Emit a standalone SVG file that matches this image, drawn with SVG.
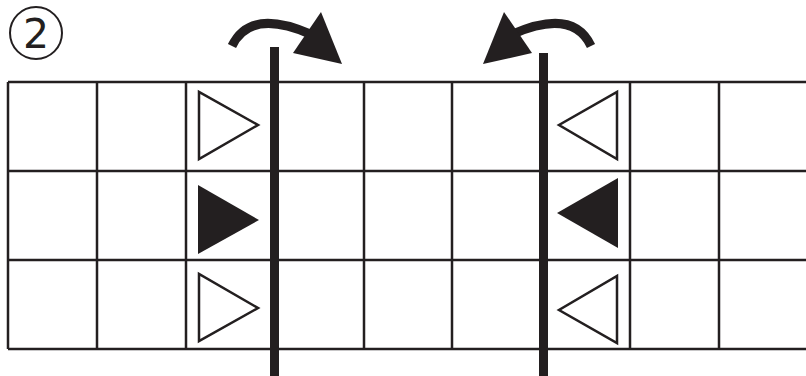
<svg xmlns="http://www.w3.org/2000/svg" width="806" height="376" viewBox="0 0 806 376">
<style>
.g{stroke:#231f20;stroke-width:2.5;fill:none}
.bar{stroke:#231f20;stroke-width:9;fill:none}
.arc{stroke:#231f20;stroke-width:9;fill:none}
.tri{fill:#fff;stroke:#231f20;stroke-width:2.5;stroke-linejoin:miter}
.tf{fill:#231f20;stroke:none}
.hd{fill:#231f20}
</style>
<rect width="806" height="376" fill="#fff"/>
<g id="label">
<circle cx="36" cy="33" r="26" fill="none" stroke="#231f20" stroke-width="2"/>
<text x="36" y="48" font-family="'DejaVu Sans', sans-serif" font-size="41" text-anchor="middle" fill="#231f20">2</text>
</g>
<g id="grid">
<path class="g" d="M8,82H806M8,171H806M8,260H806M8,349H806M8,82V349M97,82V349M186,82V349M364,82V349M452,82V349M630,82V349M719,82V349"/>
</g>
<g id="triangles">
<polygon class="tri" points="199,92 199,159 258,125"/>
<polygon class="tf" points="198,185 198,254 259,220"/>
<polygon class="tri" points="199,274 199,341 258,308"/>
<polygon class="tri" points="617,92 617,159 559,125"/>
<polygon class="tf" points="618,178 618,248 557,213"/>
<polygon class="tri" points="617,276 617,343 559,310"/>
</g>
<g id="connectors">
<line class="bar" x1="274.5" y1="47" x2="274.5" y2="376"/>
<line class="bar" x1="543.5" y1="53" x2="543.5" y2="376"/>
<path class="arc" d="M232,46 Q250,8 310,34"/>
<polygon class="hd" points="321,12 342,64 293,53"/>
<path class="arc" d="M591,46 Q573,8 513,34"/>
<polygon class="hd" points="504,12 483,64 532,53"/>
</g>
</svg>
